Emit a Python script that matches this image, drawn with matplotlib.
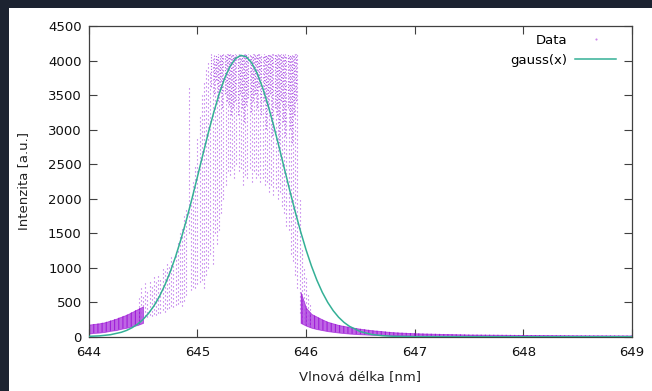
import matplotlib
matplotlib.use("Agg")
import matplotlib.pyplot as plt
from matplotlib.patches import Rectangle
from matplotlib.lines import Line2D

# ---------------- data ----------------
# dense noisy baseline on the short-wavelength side
left_x = [644.00, 644.05, 644.10, 644.15, 644.20, 644.25, 644.30, 644.35, 644.40, 644.45, 644.50]
left_lo = [45, 55, 60, 70, 85, 95, 115, 130, 150, 170, 200]
left_hi = [175, 185, 195, 210, 235, 260, 290, 320, 360, 400, 440]

# dense noisy baseline on the long-wavelength side
right_x = [645.95, 646.00, 646.05, 646.10, 646.15, 646.20, 646.30, 646.40, 646.50, 646.60,
           646.70, 646.80, 647.00, 647.25, 647.50, 648.00, 648.50, 649.00]
right_lo = [200, 160, 130, 110, 95, 80, 60, 45, 35, 28, 22, 18, 12, 8, 5, 3, 2, 1]
right_hi = [650, 420, 330, 290, 250, 215, 170, 140, 115, 95, 80, 65, 50, 40, 32, 25, 20, 18]

# sparse scattered columns of measured points (wavelength, min, max)
core_x = [644.46, 644.48, 644.50, 644.52, 644.54, 644.56, 644.58, 644.60, 644.62, 644.64,
          644.66, 644.68, 644.70, 644.72, 644.74, 644.76, 644.78, 644.80, 644.82, 644.84,
          644.86, 644.88, 644.90, 644.92, 644.94, 644.96, 644.98, 645.00, 645.02, 645.04,
          645.06, 645.08, 645.10, 645.12, 645.14, 645.16, 645.18, 645.20, 645.22, 645.24,
          645.26, 645.28, 645.30, 645.32, 645.34, 645.36, 645.38, 645.40, 645.42, 645.44,
          645.46, 645.48, 645.50, 645.52, 645.54, 645.56, 645.58, 645.60, 645.62, 645.64,
          645.66, 645.68, 645.70, 645.72, 645.74, 645.76, 645.78, 645.80, 645.82, 645.84,
          645.86, 645.88, 645.90, 645.92, 645.94, 645.96, 645.98, 646.00, 646.02, 646.04]
core_lo = [260, 280, 270, 300, 290, 310, 300, 330, 320, 350,
           340, 380, 360, 400, 420, 450, 430, 460, 480, 500,
           450, 520, 600, 1500, 680, 720, 700, 760, 800, 820,
           700, 900, 1000, 1200, 1050, 1500, 1350, 1550, 1800, 2000,
           2200, 2400, 2350, 2450, 2300, 2500, 2400, 2450, 2200, 2350,
           2300, 2450, 2250, 2400, 2300, 2350, 2250, 2300, 2200, 2250,
           2100, 2200, 2050, 2150, 2000, 2100, 1900, 1800, 1600, 1550,
           1200, 1100, 900, 700, 350, 250, 220, 200, 180, 160]
core_hi = [560, 700, 620, 780, 690, 820, 760, 880, 800, 930,
           870, 1000, 950, 1080, 1010, 1150, 1060, 1250, 1380, 1500,
           1600, 1750, 1850, 3650, 2000, 2250, 2500, 2900, 3200, 3500,
           3700, 3900, 4000, 3850, 4030, 3950, 4060, 4000, 4095, 4095,
           4095, 4095, 4095, 4095, 4095, 4095, 4095, 4095, 4095, 4095,
           4095, 4095, 4095, 4095, 4095, 4095, 4095, 4095, 4095, 4095,
           4095, 4095, 4095, 4095, 4095, 4095, 4095, 4095, 4095, 4095,
           4095, 4095, 4095, 4095, 2000, 1300, 1000, 850, 650, 480]

# denser cluster of points near the saturated top (wavelength, lower edge)
dense_x = [645.13, 645.15, 645.17, 645.19, 645.21, 645.23, 645.25, 645.27, 645.29, 645.31,
           645.33, 645.35, 645.37, 645.39, 645.41, 645.43, 645.45, 645.47, 645.49, 645.51,
           645.53, 645.55, 645.57, 645.59, 645.61, 645.63, 645.65, 645.67, 645.69, 645.71,
           645.73, 645.75, 645.77, 645.79, 645.81, 645.83, 645.85, 645.87, 645.89, 645.91]
dense_lo = [3600, 3500, 3700, 3400, 3550, 3300, 3500, 3400, 3350, 3200,
            3300, 3400, 3200, 3500, 3300, 3100, 3350, 3450, 3250, 3400,
            3500, 3300, 3600, 3200, 3400, 3000, 3300, 3500, 2900, 3300,
            3200, 2800, 3400, 3100, 2900, 3300, 3000, 2800, 3200, 3400]
saturation = 4095

# fitted gaussian curve
gauss_x = [644.00, 644.10, 644.20, 644.30, 644.35, 644.40, 644.45, 644.50, 644.55, 644.60,
           644.65, 644.70, 644.75, 644.80, 644.85, 644.90, 644.95, 645.00, 645.05, 645.10,
           645.15, 645.20, 645.25, 645.30, 645.35, 645.40, 645.45, 645.50, 645.55, 645.60,
           645.65, 645.70, 645.75, 645.80, 645.85, 645.90, 645.95, 646.00, 646.05, 646.10,
           646.15, 646.20, 646.25, 646.30, 646.35, 646.40, 646.50, 646.60, 646.70, 646.80,
           647.00, 648.00, 649.00]
gauss_y = [5, 12, 29, 64, 92, 131, 182, 250, 337, 446,
           581, 745, 939, 1163, 1417, 1697, 1998, 2314, 2635, 2951,
           3248, 3516, 3743, 3917, 4031, 4079, 4058, 3970, 3819, 3612,
           3359, 3072, 2763, 2442, 2123, 1815, 1526, 1261, 1025, 819,
           643, 497, 378, 282, 207, 150, 74, 34, 15, 6,
           1, 0, 0]

x_ticks = [644, 645, 646, 647, 648, 649]
y_ticks = [0, 500, 1000, 1500, 2000, 2500, 3000, 3500, 4000, 4500]
xlabel = "Vlnová délka [nm]"
ylabel = "Intenzita [a.u.]"
labels = ["Data", "gauss(x)"]

# ---------------- styling ----------------
plt.rcParams["font.family"] = ["DejaVu Sans"]
plt.rcParams["hatch.linewidth"] = 0.8
DATA_C = "#9400d3"
DOT_C = "#b05ae6"
GAUSS_C = "#34b096"
AX_C = "#404040"

W, H = 652, 391
fig = plt.figure(figsize=(W / 100, H / 100), dpi=100)
fig.patch.set_facecolor("#1c2331")
fig.patches.append(Rectangle((9 / W, 0), 1 - 9 / W, (H - 8) / H,
                             transform=fig.transFigure, facecolor="white",
                             edgecolor="none", zorder=-10))

ax = fig.add_axes([88.7 / W, 1 - 336.7 / H, (632 - 88.7) / W, (336.7 - 26.3) / H])
ax.set_zorder(5)
ax.set_facecolor("white")

# data
for xs, lo, hi in ((left_x, left_lo, left_hi), (right_x, right_lo, right_hi)):
    ax.fill_between(xs, lo, hi, facecolor=DATA_C, alpha=0.6, edgecolor=DATA_C,
                    lw=0.6, zorder=2)
    ax.fill_between(xs, lo, hi, facecolor="none", edgecolor=DATA_C, hatch="||||",
                    lw=0, alpha=0.7, zorder=2)
ax.vlines(core_x, core_lo, core_hi, colors=DOT_C, linewidths=0.8,
          linestyles=(0, (1, 2.6)), zorder=2)
ax.vlines(dense_x, dense_lo, [saturation] * len(dense_x), colors=DOT_C, linewidths=0.8,
          linestyles=(1.5, (1, 1.6)), zorder=2)

ax.plot(gauss_x, gauss_y, color=GAUSS_C, lw=1.1, zorder=3)

ax.set_xlim(644, 649)
ax.set_ylim(0, 4500)
ax.set_xticks(x_ticks)
ax.set_yticks(y_ticks)
ax.tick_params(direction="in", length=5.5, width=0.8, color=AX_C, labelsize=9.5,
               top=True, right=True, labelcolor="#111111")
ax.tick_params(axis="x", pad=6.5)
ax.tick_params(axis="y", pad=5)
for s in ax.spines.values():
    s.set_color(AX_C)
    s.set_linewidth(0.9)

ax.set_xlabel(xlabel, fontsize=9.5, color="#222222", labelpad=8)
ax.set_ylabel(ylabel, fontsize=9.5, color="#222222", labelpad=13)

handles = [Line2D([], [], color=DATA_C, marker=".", markersize=1.0, linestyle="none", alpha=0.5),
           Line2D([], [], color=GAUSS_C, lw=1.1)]
ax.legend(handles, labels, loc="upper right", bbox_to_anchor=(0.9706, 0.975),
          frameon=False, markerfirst=False, fontsize=9.5, borderpad=0, borderaxespad=0,
          handlelength=3.1, handletextpad=0.6, labelspacing=0.5)

fig.savefig("out.png", dpi=100, facecolor=fig.get_facecolor())
